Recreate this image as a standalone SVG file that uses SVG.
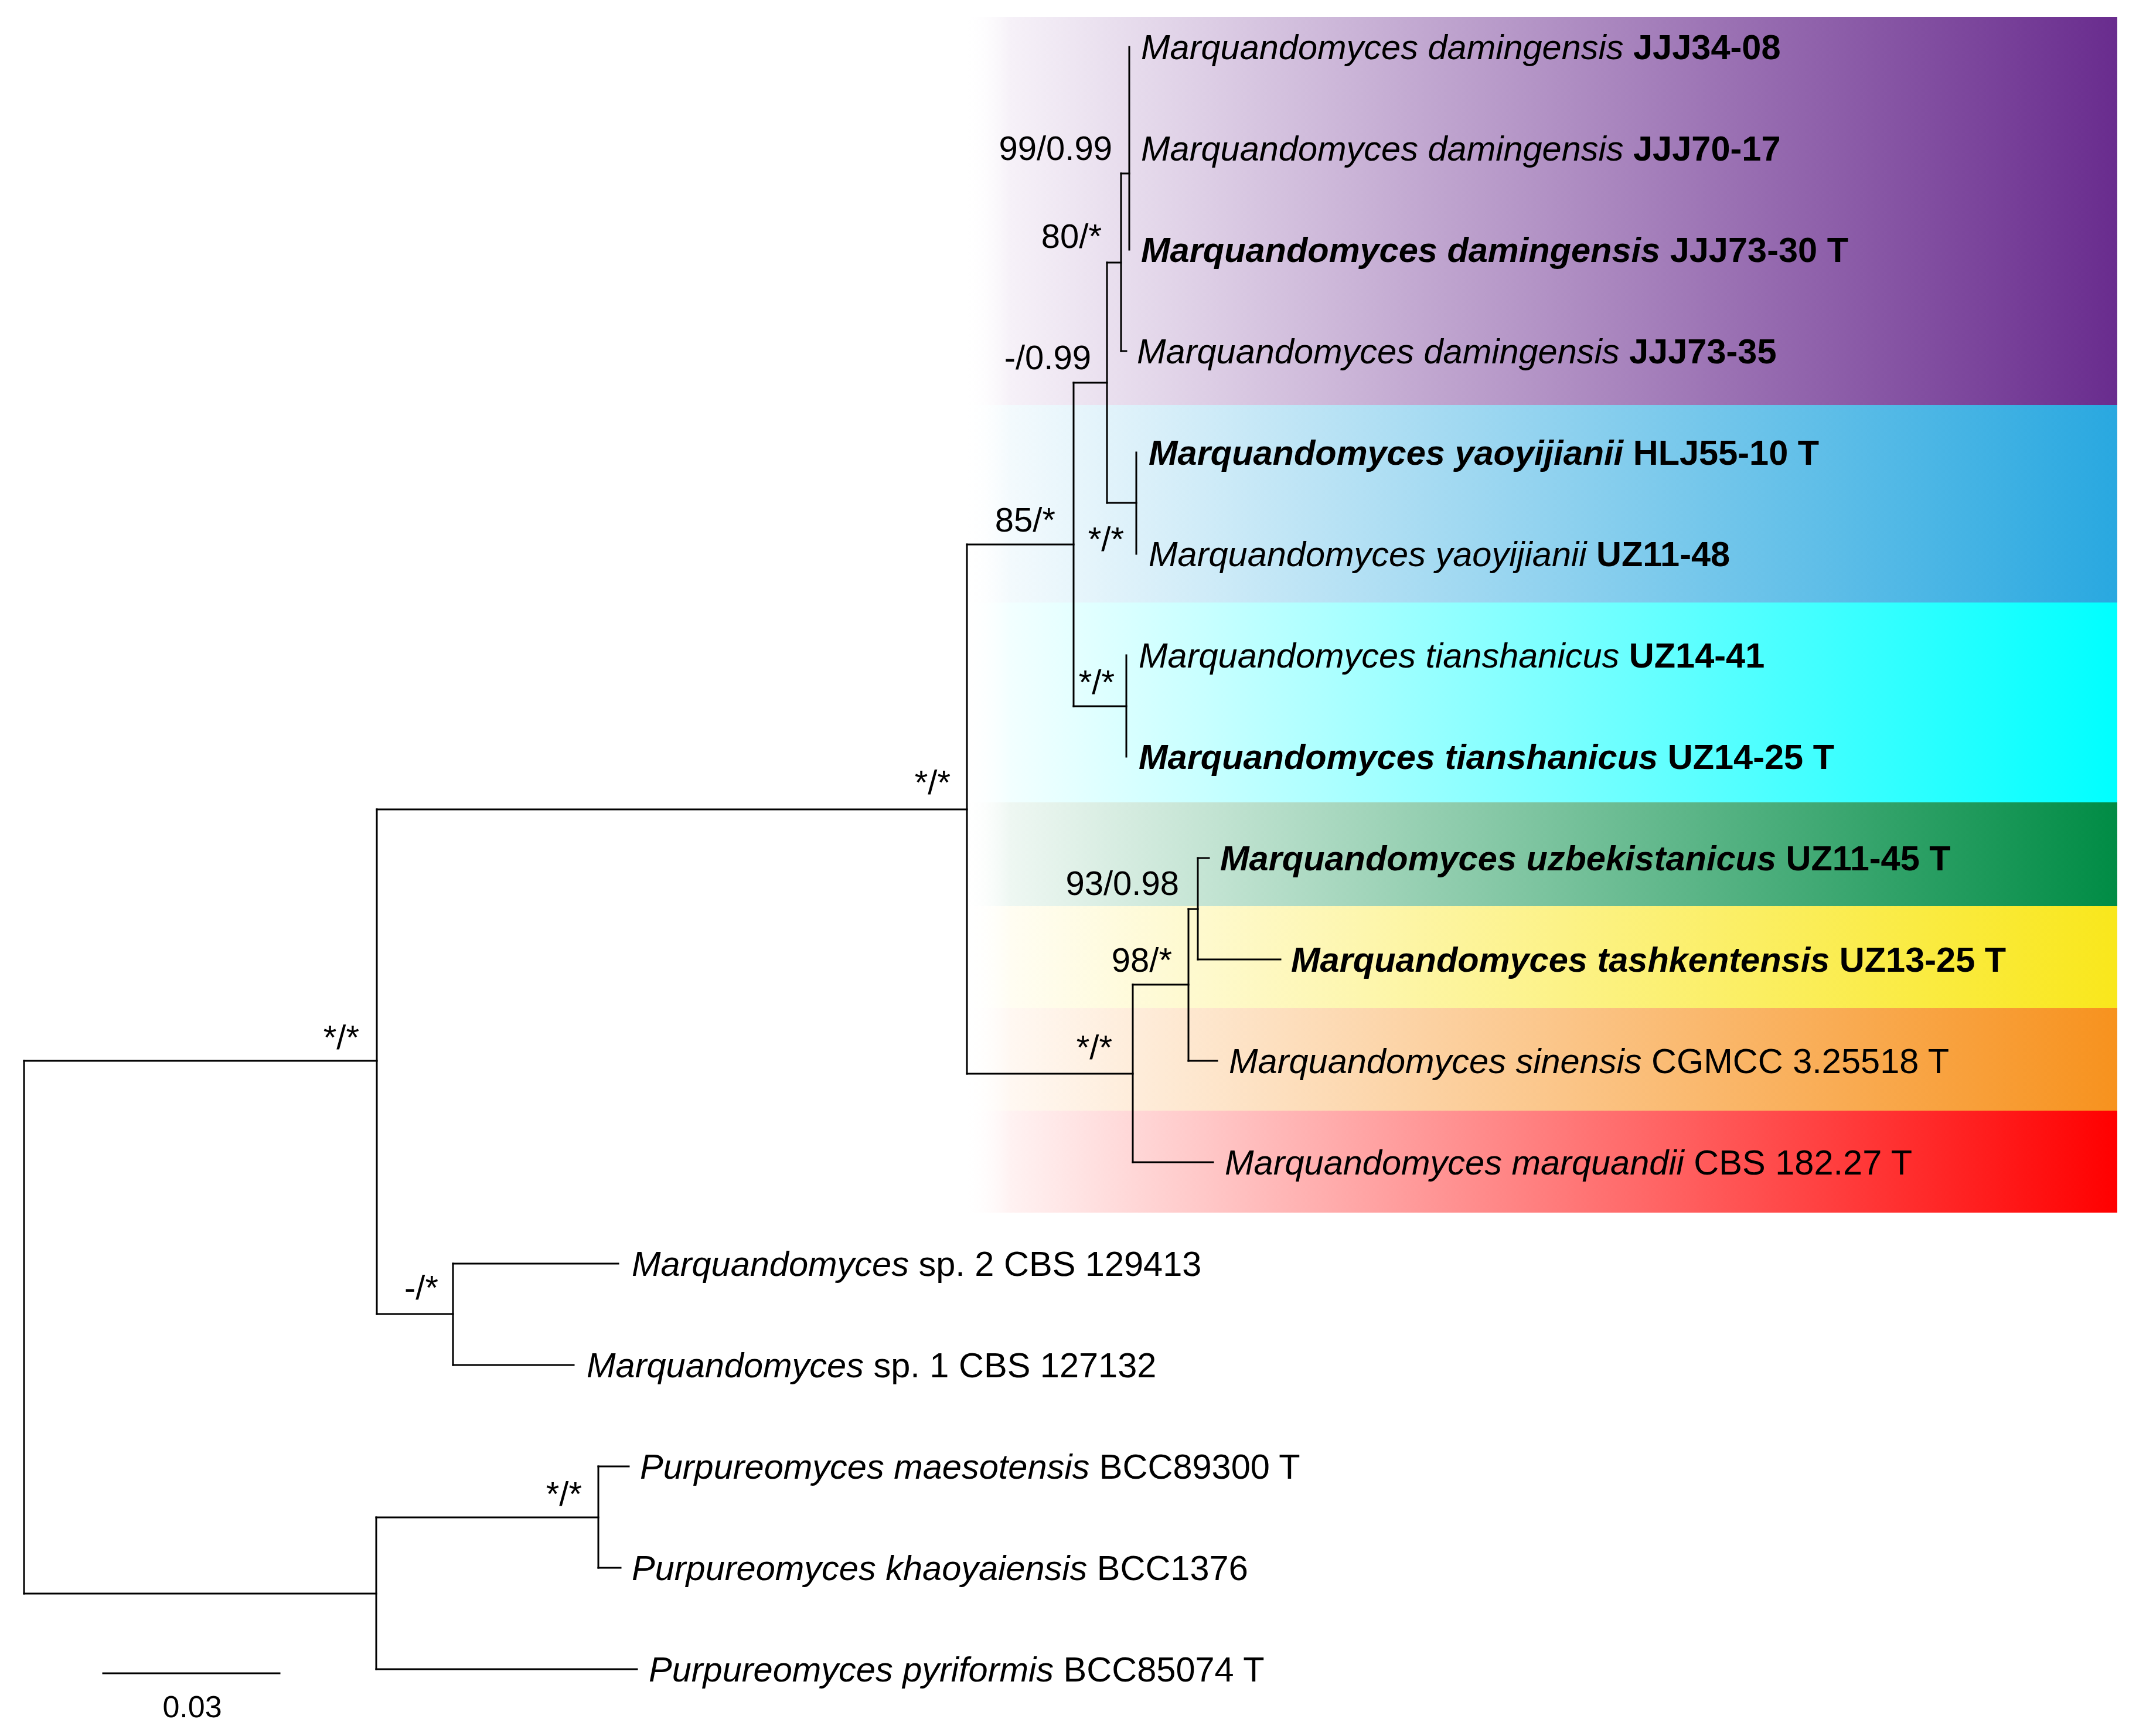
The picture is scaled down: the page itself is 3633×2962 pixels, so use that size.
<svg xmlns="http://www.w3.org/2000/svg" width="3633" height="2962" viewBox="0 0 3633 2962">
<defs>
<linearGradient id="gPurple" gradientUnits="userSpaceOnUse" x1="1645" y1="0" x2="3613" y2="0"><stop offset="0" stop-color="#ffffff" stop-opacity="0"/><stop offset="0.04" stop-color="#f6f1f8"/><stop offset="1" stop-color="#692c8e"/></linearGradient>
<linearGradient id="gBlue" gradientUnits="userSpaceOnUse" x1="1645" y1="0" x2="3613" y2="0"><stop offset="0" stop-color="#ffffff" stop-opacity="0"/><stop offset="0.04" stop-color="#f3fafd"/><stop offset="1" stop-color="#29a8e0"/></linearGradient>
<linearGradient id="gCyan" gradientUnits="userSpaceOnUse" x1="1645" y1="0" x2="3613" y2="0"><stop offset="0" stop-color="#ffffff" stop-opacity="0"/><stop offset="0.04" stop-color="#f2ffff"/><stop offset="1" stop-color="#00ffff"/></linearGradient>
<linearGradient id="gGreen" gradientUnits="userSpaceOnUse" x1="1645" y1="0" x2="3613" y2="0"><stop offset="0" stop-color="#ffffff" stop-opacity="0"/><stop offset="0.04" stop-color="#eef7f2"/><stop offset="1" stop-color="#008c45"/></linearGradient>
<linearGradient id="gYellow" gradientUnits="userSpaceOnUse" x1="1645" y1="0" x2="3613" y2="0"><stop offset="0" stop-color="#ffffff" stop-opacity="0"/><stop offset="0.04" stop-color="#fffdf2"/><stop offset="1" stop-color="#f9e71c"/></linearGradient>
<linearGradient id="gOrange" gradientUnits="userSpaceOnUse" x1="1645" y1="0" x2="3613" y2="0"><stop offset="0" stop-color="#ffffff" stop-opacity="0"/><stop offset="0.04" stop-color="#fff8f2"/><stop offset="1" stop-color="#f7921e"/></linearGradient>
<linearGradient id="gRed" gradientUnits="userSpaceOnUse" x1="1645" y1="0" x2="3613" y2="0"><stop offset="0" stop-color="#ffffff" stop-opacity="0"/><stop offset="0.04" stop-color="#fff2f2"/><stop offset="1" stop-color="#ff0000"/></linearGradient>
<style>
text{font-family:"Liberation Sans",Arial,Helvetica,sans-serif;font-size:58px;fill:#000}
.leaf text{font-size:59.5px}
.i{font-style:italic}
.b{font-weight:bold}
.sup{text-anchor:end}
.edges line{stroke:#000;stroke-width:3;stroke-linecap:square}
</style>
</defs>
<rect width="3633" height="2962" fill="#ffffff"/>
<g id="bands">
<rect x="1645" y="29" width="1968" height="662" fill="url(#gPurple)"/>
<rect x="1645" y="691" width="1968" height="337" fill="url(#gBlue)"/>
<rect x="1645" y="1028" width="1968" height="341" fill="url(#gCyan)"/>
<rect x="1645" y="1369" width="1968" height="177" fill="url(#gGreen)"/>
<rect x="1645" y="1546" width="1968" height="174" fill="url(#gYellow)"/>
<rect x="1645" y="1720" width="1968" height="175" fill="url(#gOrange)"/>
<rect x="1645" y="1895" width="1968" height="174" fill="url(#gRed)"/>
</g>
<g id="connectors" class="edges">
<line x1="41" y1="1810" x2="41" y2="2719"/>
<line x1="41" y1="1810" x2="643" y2="1810"/>
<line x1="41" y1="2719" x2="642" y2="2719"/>
<line x1="643" y1="1381" x2="643" y2="2242"/>
<line x1="643" y1="1381" x2="1650" y2="1381"/>
<line x1="643" y1="2242" x2="773" y2="2242"/>
<line x1="1650" y1="929" x2="1650" y2="1832"/>
<line x1="1650" y1="929" x2="1832" y2="929"/>
<line x1="1650" y1="1832" x2="1933" y2="1832"/>
<line x1="1832" y1="653" x2="1832" y2="1205"/>
<line x1="1832" y1="653" x2="1889" y2="653"/>
<line x1="1832" y1="1205" x2="1922" y2="1205"/>
<line x1="1889" y1="448" x2="1889" y2="858"/>
<line x1="1889" y1="448" x2="1913" y2="448"/>
<line x1="1889" y1="858" x2="1939" y2="858"/>
<line x1="1913" y1="296" x2="1913" y2="599"/>
<line x1="1913" y1="296" x2="1927" y2="296"/>
<line x1="1913" y1="599" x2="1922" y2="599"/>
<line x1="1927" y1="80" x2="1927" y2="426"/>
<line x1="1939" y1="772" x2="1939" y2="945"/>
<line x1="1922" y1="1118" x2="1922" y2="1291"/>
<line x1="1933" y1="1680" x2="1933" y2="1983"/>
<line x1="1933" y1="1680" x2="2028" y2="1680"/>
<line x1="1933" y1="1983" x2="2070" y2="1983"/>
<line x1="2028" y1="1551" x2="2028" y2="1810"/>
<line x1="2028" y1="1551" x2="2044" y2="1551"/>
<line x1="2028" y1="1810" x2="2077" y2="1810"/>
<line x1="2044" y1="1464" x2="2044" y2="1637"/>
<line x1="2044" y1="1464" x2="2063" y2="1464"/>
<line x1="2044" y1="1637" x2="2185" y2="1637"/>
<line x1="773" y1="2156" x2="773" y2="2329"/>
<line x1="773" y1="2156" x2="1055" y2="2156"/>
<line x1="773" y1="2329" x2="979" y2="2329"/>
<line x1="642" y1="2589" x2="642" y2="2848"/>
<line x1="642" y1="2589" x2="1021" y2="2589"/>
<line x1="642" y1="2848" x2="1087" y2="2848"/>
<line x1="1021" y1="2502" x2="1021" y2="2675"/>
<line x1="1021" y1="2502" x2="1073" y2="2502"/>
<line x1="1021" y1="2675" x2="1059" y2="2675"/>
<line x1="176" y1="2855" x2="477" y2="2855"/>
</g>
<g class="leaf">
<g id="leaf-JJJ34-08"><text x="1947" y="101"><tspan class="i">Marquandomyces damingensis</tspan> <tspan class="b">JJJ34-08</tspan></text></g>
<g id="leaf-JJJ70-17"><text x="1947" y="274"><tspan class="i">Marquandomyces damingensis</tspan> <tspan class="b">JJJ70-17</tspan></text></g>
<g id="leaf-JJJ73-30"><text x="1947" y="447" class="b"><tspan class="i">Marquandomyces damingensis</tspan> JJJ73-30 T</text></g>
<g id="leaf-JJJ73-35"><text x="1940" y="620"><tspan class="i">Marquandomyces damingensis</tspan> <tspan class="b">JJJ73-35</tspan></text></g>
<g id="leaf-HLJ55-10"><text x="1960" y="793" class="b"><tspan class="i">Marquandomyces yaoyijianii</tspan> HLJ55-10 T</text></g>
<g id="leaf-UZ11-48"><text x="1960" y="966"><tspan class="i">Marquandomyces yaoyijianii</tspan> <tspan class="b">UZ11-48</tspan></text></g>
<g id="leaf-UZ14-41"><text x="1943" y="1139"><tspan class="i">Marquandomyces tianshanicus</tspan> <tspan class="b">UZ14-41</tspan></text></g>
<g id="leaf-UZ14-25"><text x="1943" y="1312" class="b"><tspan class="i">Marquandomyces tianshanicus</tspan> UZ14-25 T</text></g>
<g id="leaf-UZ11-45"><text x="2082" y="1485" class="b"><tspan class="i">Marquandomyces uzbekistanicus</tspan> UZ11-45 T</text></g>
<g id="leaf-UZ13-25"><text x="2203" y="1658" class="b"><tspan class="i">Marquandomyces tashkentensis</tspan> UZ13-25 T</text></g>
<g id="leaf-CGMCC"><text x="2097" y="1831"><tspan class="i">Marquandomyces sinensis</tspan> CGMCC 3.25518 T</text></g>
<g id="leaf-CBS18227"><text x="2090" y="2004"><tspan class="i">Marquandomyces marquandii</tspan> CBS 182.27 T</text></g>
<g id="leaf-CBS129413"><text x="1078" y="2177"><tspan class="i">Marquandomyces</tspan> sp. 2 CBS 129413</text></g>
<g id="leaf-CBS127132"><text x="1001" y="2350"><tspan class="i">Marquandomyces</tspan> sp. 1 CBS 127132</text></g>
<g id="leaf-BCC89300"><text x="1092" y="2523"><tspan class="i">Purpureomyces maesotensis</tspan> BCC89300 T</text></g>
<g id="leaf-BCC1376"><text x="1078" y="2696"><tspan class="i">Purpureomyces khaoyaiensis</tspan> BCC1376</text></g>
<g id="leaf-BCC85074"><text x="1107" y="2869"><tspan class="i">Purpureomyces pyriformis</tspan> BCC85074 T</text></g>
</g>
<g id="support-labels">
<text class="sup" x="1898" y="273">99/0.99</text>
<text class="sup" x="1880" y="423">80/*</text>
<text class="sup" x="1862" y="630">-/0.99</text>
<text class="sup" x="1801" y="907">85/*</text>
<text class="sup" x="1918" y="940">*/*</text>
<text class="sup" x="1902" y="1184">*/*</text>
<text class="sup" x="1622" y="1355">*/*</text>
<text class="sup" x="2012" y="1527">93/0.98</text>
<text class="sup" x="2000" y="1658">98/*</text>
<text class="sup" x="1898" y="1807">*/*</text>
<text class="sup" x="613" y="1790">*/*</text>
<text class="sup" x="748" y="2217">-/*</text>
<text class="sup" x="993" y="2569">*/*</text>
</g>
<g id="scale-bar"><text x="328" y="2930" text-anchor="middle" style="font-size:52px">0.03</text></g>
</svg>
